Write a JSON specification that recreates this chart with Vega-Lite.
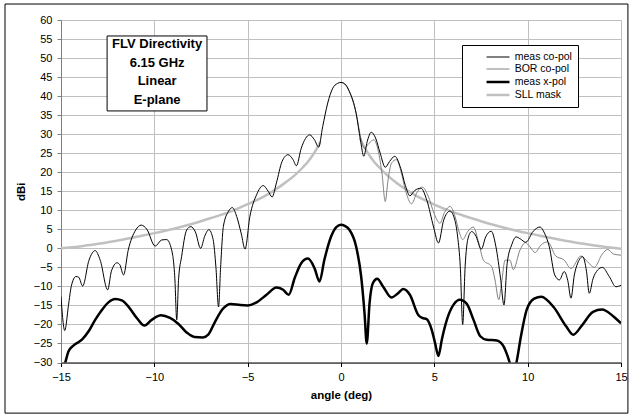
{
"$schema": "https://vega.github.io/schema/vega-lite/v6.json",
"width": 560, "height": 342.5,
"autosize": {"type": "none"},
"padding": {"left": 61, "top": 20, "right": 12, "bottom": 55.5},
"background": "white",
"config": {"view": {"stroke": null}, "font": "Liberation Sans",
"legend": {"orient": "none", "legendX": 401, "legendY": 25, "title": null, "strokeColor": "#000000", "fillColor": "#ffffff", "padding": 6,
"labelFont": "Liberation Sans", "labelFontSize": 10.5, "labelColor": "#000000", "rowPadding": -1.5}},
"data": {"values": [
{"angle":-15.0,"dBi":-12.7,"series":"meas co-pol"},
{"angle":-14.8,"dBi":-21.6,"series":"meas co-pol"},
{"angle":-14.6,"dBi":-15,"series":"meas co-pol"},
{"angle":-14.45,"dBi":-10,"series":"meas co-pol"},
{"angle":-14.2,"dBi":-7.4,"series":"meas co-pol"},
{"angle":-14.05,"dBi":-7.6,"series":"meas co-pol"},
{"angle":-13.84,"dBi":-9.9,"series":"meas co-pol"},
{"angle":-13.5,"dBi":-3.1,"series":"meas co-pol"},
{"angle":-13.17,"dBi":-0.6,"series":"meas co-pol"},
{"angle":-12.9,"dBi":-3.1,"series":"meas co-pol"},
{"angle":-12.5,"dBi":-10.9,"series":"meas co-pol"},
{"angle":-12.3,"dBi":-6,"series":"meas co-pol"},
{"angle":-12.0,"dBi":-3.8,"series":"meas co-pol"},
{"angle":-11.85,"dBi":-4.3,"series":"meas co-pol"},
{"angle":-11.65,"dBi":-7.0,"series":"meas co-pol"},
{"angle":-11.4,"dBi":-0.5,"series":"meas co-pol"},
{"angle":-11.0,"dBi":4.8,"series":"meas co-pol"},
{"angle":-10.7,"dBi":6.1,"series":"meas co-pol"},
{"angle":-10.4,"dBi":5.0,"series":"meas co-pol"},
{"angle":-9.96,"dBi":0.6,"series":"meas co-pol"},
{"angle":-9.6,"dBi":2.2,"series":"meas co-pol"},
{"angle":-9.34,"dBi":2.3,"series":"meas co-pol"},
{"angle":-9.07,"dBi":-0.5,"series":"meas co-pol"},
{"angle":-8.9,"dBi":-8,"series":"meas co-pol"},
{"angle":-8.8,"dBi":-18.8,"series":"meas co-pol"},
{"angle":-8.7,"dBi":-8,"series":"meas co-pol"},
{"angle":-8.54,"dBi":-2.2,"series":"meas co-pol"},
{"angle":-8.27,"dBi":4.8,"series":"meas co-pol"},
{"angle":-8.05,"dBi":5.7,"series":"meas co-pol"},
{"angle":-7.8,"dBi":4.3,"series":"meas co-pol"},
{"angle":-7.52,"dBi":0.0,"series":"meas co-pol"},
{"angle":-7.3,"dBi":3.2,"series":"meas co-pol"},
{"angle":-7.08,"dBi":4.9,"series":"meas co-pol"},
{"angle":-6.85,"dBi":2.3,"series":"meas co-pol"},
{"angle":-6.7,"dBi":-5,"series":"meas co-pol"},
{"angle":-6.56,"dBi":-15.4,"series":"meas co-pol"},
{"angle":-6.45,"dBi":-5,"series":"meas co-pol"},
{"angle":-6.3,"dBi":5.8,"series":"meas co-pol"},
{"angle":-6.03,"dBi":9.7,"series":"meas co-pol"},
{"angle":-5.82,"dBi":10.7,"series":"meas co-pol"},
{"angle":-5.59,"dBi":8.4,"series":"meas co-pol"},
{"angle":-5.35,"dBi":4,"series":"meas co-pol"},
{"angle":-5.14,"dBi":-0.2,"series":"meas co-pol"},
{"angle":-4.88,"dBi":8.4,"series":"meas co-pol"},
{"angle":-4.52,"dBi":14.1,"series":"meas co-pol"},
{"angle":-4.17,"dBi":16.5,"series":"meas co-pol"},
{"angle":-3.9,"dBi":15.0,"series":"meas co-pol"},
{"angle":-3.69,"dBi":13.5,"series":"meas co-pol"},
{"angle":-3.46,"dBi":17.2,"series":"meas co-pol"},
{"angle":-3.16,"dBi":22.8,"series":"meas co-pol"},
{"angle":-2.84,"dBi":24.6,"series":"meas co-pol"},
{"angle":-2.57,"dBi":23.3,"series":"meas co-pol"},
{"angle":-2.39,"dBi":21.7,"series":"meas co-pol"},
{"angle":-2.13,"dBi":26.3,"series":"meas co-pol"},
{"angle":-1.68,"dBi":29.8,"series":"meas co-pol"},
{"angle":-1.42,"dBi":28.5,"series":"meas co-pol"},
{"angle":-1.2,"dBi":26.6,"series":"meas co-pol"},
{"angle":-0.98,"dBi":32.0,"series":"meas co-pol"},
{"angle":-0.71,"dBi":38.2,"series":"meas co-pol"},
{"angle":-0.44,"dBi":42.1,"series":"meas co-pol"},
{"angle":-0.2,"dBi":43.3,"series":"meas co-pol"},
{"angle":0,"dBi":43.6,"series":"meas co-pol"},
{"angle":0.2,"dBi":43.2,"series":"meas co-pol"},
{"angle":0.45,"dBi":41.2,"series":"meas co-pol"},
{"angle":0.81,"dBi":35.5,"series":"meas co-pol"},
{"angle":1.04,"dBi":28.5,"series":"meas co-pol"},
{"angle":1.22,"dBi":24.2,"series":"meas co-pol"},
{"angle":1.4,"dBi":28,"series":"meas co-pol"},
{"angle":1.62,"dBi":30.5,"series":"meas co-pol"},
{"angle":1.85,"dBi":29,"series":"meas co-pol"},
{"angle":2.1,"dBi":25,"series":"meas co-pol"},
{"angle":2.37,"dBi":21.3,"series":"meas co-pol"},
{"angle":2.6,"dBi":22.8,"series":"meas co-pol"},
{"angle":2.88,"dBi":24.2,"series":"meas co-pol"},
{"angle":3.2,"dBi":21,"series":"meas co-pol"},
{"angle":3.45,"dBi":16.5,"series":"meas co-pol"},
{"angle":3.69,"dBi":13.8,"series":"meas co-pol"},
{"angle":3.95,"dBi":15.2,"series":"meas co-pol"},
{"angle":4.28,"dBi":15.8,"series":"meas co-pol"},
{"angle":4.6,"dBi":12.6,"series":"meas co-pol"},
{"angle":4.96,"dBi":5.6,"series":"meas co-pol"},
{"angle":5.22,"dBi":1.4,"series":"meas co-pol"},
{"angle":5.5,"dBi":7.4,"series":"meas co-pol"},
{"angle":5.84,"dBi":9.8,"series":"meas co-pol"},
{"angle":6.1,"dBi":7.4,"series":"meas co-pol"},
{"angle":6.25,"dBi":3,"series":"meas co-pol"},
{"angle":6.39,"dBi":-4.8,"series":"meas co-pol"},
{"angle":6.52,"dBi":-20,"series":"meas co-pol"},
{"angle":6.65,"dBi":-4.8,"series":"meas co-pol"},
{"angle":6.8,"dBi":2.5,"series":"meas co-pol"},
{"angle":7.0,"dBi":4.4,"series":"meas co-pol"},
{"angle":7.2,"dBi":3.5,"series":"meas co-pol"},
{"angle":7.52,"dBi":-0.2,"series":"meas co-pol"},
{"angle":7.75,"dBi":3,"series":"meas co-pol"},
{"angle":8.05,"dBi":4.5,"series":"meas co-pol"},
{"angle":8.3,"dBi":0.4,"series":"meas co-pol"},
{"angle":8.55,"dBi":-8,"series":"meas co-pol"},
{"angle":8.73,"dBi":-14.9,"series":"meas co-pol"},
{"angle":8.9,"dBi":-4,"series":"meas co-pol"},
{"angle":9.15,"dBi":1.0,"series":"meas co-pol"},
{"angle":9.38,"dBi":3.0,"series":"meas co-pol"},
{"angle":9.6,"dBi":2.5,"series":"meas co-pol"},
{"angle":9.9,"dBi":1.6,"series":"meas co-pol"},
{"angle":10.3,"dBi":4.5,"series":"meas co-pol"},
{"angle":10.66,"dBi":5.6,"series":"meas co-pol"},
{"angle":10.9,"dBi":4,"series":"meas co-pol"},
{"angle":11.16,"dBi":0.4,"series":"meas co-pol"},
{"angle":11.45,"dBi":-7,"series":"meas co-pol"},
{"angle":11.7,"dBi":-8.3,"series":"meas co-pol"},
{"angle":11.96,"dBi":-6.1,"series":"meas co-pol"},
{"angle":12.15,"dBi":-8.5,"series":"meas co-pol"},
{"angle":12.32,"dBi":-13.1,"series":"meas co-pol"},
{"angle":12.5,"dBi":-7,"series":"meas co-pol"},
{"angle":12.68,"dBi":-3.9,"series":"meas co-pol"},
{"angle":12.95,"dBi":-2.2,"series":"meas co-pol"},
{"angle":13.15,"dBi":-6,"series":"meas co-pol"},
{"angle":13.3,"dBi":-11.8,"series":"meas co-pol"},
{"angle":13.5,"dBi":-8,"series":"meas co-pol"},
{"angle":13.75,"dBi":-5.7,"series":"meas co-pol"},
{"angle":14.0,"dBi":-5.0,"series":"meas co-pol"},
{"angle":14.37,"dBi":-7.4,"series":"meas co-pol"},
{"angle":14.73,"dBi":-10.1,"series":"meas co-pol"},
{"angle":15.0,"dBi":-9.7,"series":"meas co-pol"},
{"angle":0,"dBi":43.6,"series":"BOR co-pol"},
{"angle":0.2,"dBi":43.2,"series":"BOR co-pol"},
{"angle":0.45,"dBi":41.2,"series":"BOR co-pol"},
{"angle":0.81,"dBi":35.5,"series":"BOR co-pol"},
{"angle":1.04,"dBi":29.5,"series":"BOR co-pol"},
{"angle":1.25,"dBi":26.3,"series":"BOR co-pol"},
{"angle":1.5,"dBi":27.6,"series":"BOR co-pol"},
{"angle":1.76,"dBi":28.5,"series":"BOR co-pol"},
{"angle":2.0,"dBi":25.5,"series":"BOR co-pol"},
{"angle":2.2,"dBi":19.5,"series":"BOR co-pol"},
{"angle":2.37,"dBi":12.3,"series":"BOR co-pol"},
{"angle":2.52,"dBi":18,"series":"BOR co-pol"},
{"angle":2.72,"dBi":22.5,"series":"BOR co-pol"},
{"angle":2.97,"dBi":23.3,"series":"BOR co-pol"},
{"angle":3.2,"dBi":20.5,"series":"BOR co-pol"},
{"angle":3.45,"dBi":15.3,"series":"BOR co-pol"},
{"angle":3.78,"dBi":11.7,"series":"BOR co-pol"},
{"angle":4.05,"dBi":14.5,"series":"BOR co-pol"},
{"angle":4.35,"dBi":16.1,"series":"BOR co-pol"},
{"angle":4.65,"dBi":14,"series":"BOR co-pol"},
{"angle":5.0,"dBi":9,"series":"BOR co-pol"},
{"angle":5.3,"dBi":6.6,"series":"BOR co-pol"},
{"angle":5.55,"dBi":9.5,"series":"BOR co-pol"},
{"angle":5.85,"dBi":11.0,"series":"BOR co-pol"},
{"angle":6.1,"dBi":8.5,"series":"BOR co-pol"},
{"angle":6.35,"dBi":4,"series":"BOR co-pol"},
{"angle":6.52,"dBi":2.3,"series":"BOR co-pol"},
{"angle":6.8,"dBi":4.5,"series":"BOR co-pol"},
{"angle":7.09,"dBi":5.6,"series":"BOR co-pol"},
{"angle":7.35,"dBi":2,"series":"BOR co-pol"},
{"angle":7.63,"dBi":-3.1,"series":"BOR co-pol"},
{"angle":8.07,"dBi":-4.8,"series":"BOR co-pol"},
{"angle":8.25,"dBi":-8.3,"series":"BOR co-pol"},
{"angle":8.45,"dBi":-13.5,"series":"BOR co-pol"},
{"angle":8.6,"dBi":-9.2,"series":"BOR co-pol"},
{"angle":8.79,"dBi":-3.1,"series":"BOR co-pol"},
{"angle":9.05,"dBi":-3.1,"series":"BOR co-pol"},
{"angle":9.23,"dBi":-5.6,"series":"BOR co-pol"},
{"angle":9.59,"dBi":-0.45,"series":"BOR co-pol"},
{"angle":9.88,"dBi":1.5,"series":"BOR co-pol"},
{"angle":10.12,"dBi":0.4,"series":"BOR co-pol"},
{"angle":10.4,"dBi":-1.1,"series":"BOR co-pol"},
{"angle":10.7,"dBi":0.8,"series":"BOR co-pol"},
{"angle":11.07,"dBi":1.7,"series":"BOR co-pol"},
{"angle":11.5,"dBi":-2.0,"series":"BOR co-pol"},
{"angle":11.96,"dBi":-3.1,"series":"BOR co-pol"},
{"angle":12.32,"dBi":-5.3,"series":"BOR co-pol"},
{"angle":12.86,"dBi":-2.0,"series":"BOR co-pol"},
{"angle":13.2,"dBi":-3.5,"series":"BOR co-pol"},
{"angle":13.57,"dBi":-5.0,"series":"BOR co-pol"},
{"angle":14.0,"dBi":-1.5,"series":"BOR co-pol"},
{"angle":14.29,"dBi":-0.3,"series":"BOR co-pol"},
{"angle":14.6,"dBi":-1.5,"series":"BOR co-pol"},
{"angle":15,"dBi":-1.8,"series":"BOR co-pol"},
{"angle":-15,"dBi":-34,"series":"meas x-pol"},
{"angle":-14.77,"dBi":-30,"series":"meas x-pol"},
{"angle":-14.6,"dBi":-27.1,"series":"meas x-pol"},
{"angle":-14.32,"dBi":-25.5,"series":"meas x-pol"},
{"angle":-13.88,"dBi":-24.0,"series":"meas x-pol"},
{"angle":-13.52,"dBi":-21.8,"series":"meas x-pol"},
{"angle":-13.17,"dBi":-18.8,"series":"meas x-pol"},
{"angle":-12.81,"dBi":-16.2,"series":"meas x-pol"},
{"angle":-12.46,"dBi":-14.2,"series":"meas x-pol"},
{"angle":-12.1,"dBi":-13.3,"series":"meas x-pol"},
{"angle":-11.74,"dBi":-13.7,"series":"meas x-pol"},
{"angle":-11.39,"dBi":-15.3,"series":"meas x-pol"},
{"angle":-10.94,"dBi":-18.3,"series":"meas x-pol"},
{"angle":-10.53,"dBi":-20.3,"series":"meas x-pol"},
{"angle":-10.14,"dBi":-18.8,"series":"meas x-pol"},
{"angle":-9.64,"dBi":-17.6,"series":"meas x-pol"},
{"angle":-9.16,"dBi":-18.3,"series":"meas x-pol"},
{"angle":-8.72,"dBi":-19.8,"series":"meas x-pol"},
{"angle":-8.27,"dBi":-22.1,"series":"meas x-pol"},
{"angle":-7.85,"dBi":-23.3,"series":"meas x-pol"},
{"angle":-7.4,"dBi":-23.4,"series":"meas x-pol"},
{"angle":-7.1,"dBi":-22.6,"series":"meas x-pol"},
{"angle":-6.75,"dBi":-19.3,"series":"meas x-pol"},
{"angle":-6.35,"dBi":-16,"series":"meas x-pol"},
{"angle":-5.9,"dBi":-14.6,"series":"meas x-pol"},
{"angle":-5.4,"dBi":-14.9,"series":"meas x-pol"},
{"angle":-5.0,"dBi":-15.0,"series":"meas x-pol"},
{"angle":-4.52,"dBi":-14.2,"series":"meas x-pol"},
{"angle":-3.99,"dBi":-12.2,"series":"meas x-pol"},
{"angle":-3.46,"dBi":-10.3,"series":"meas x-pol"},
{"angle":-3.1,"dBi":-10.9,"series":"meas x-pol"},
{"angle":-2.8,"dBi":-12.2,"series":"meas x-pol"},
{"angle":-2.48,"dBi":-7.8,"series":"meas x-pol"},
{"angle":-2.13,"dBi":-3.9,"series":"meas x-pol"},
{"angle":-1.77,"dBi":-2.7,"series":"meas x-pol"},
{"angle":-1.42,"dBi":-5.2,"series":"meas x-pol"},
{"angle":-1.15,"dBi":-8.7,"series":"meas x-pol"},
{"angle":-0.89,"dBi":-3.0,"series":"meas x-pol"},
{"angle":-0.53,"dBi":3.1,"series":"meas x-pol"},
{"angle":-0.25,"dBi":5.6,"series":"meas x-pol"},
{"angle":0,"dBi":6.2,"series":"meas x-pol"},
{"angle":0.2,"dBi":5.9,"series":"meas x-pol"},
{"angle":0.45,"dBi":4.9,"series":"meas x-pol"},
{"angle":0.81,"dBi":0.5,"series":"meas x-pol"},
{"angle":1.08,"dBi":-7.4,"series":"meas x-pol"},
{"angle":1.26,"dBi":-17.0,"series":"meas x-pol"},
{"angle":1.38,"dBi":-25,"series":"meas x-pol"},
{"angle":1.53,"dBi":-14.4,"series":"meas x-pol"},
{"angle":1.71,"dBi":-9.1,"series":"meas x-pol"},
{"angle":1.94,"dBi":-8.0,"series":"meas x-pol"},
{"angle":2.25,"dBi":-10.0,"series":"meas x-pol"},
{"angle":2.7,"dBi":-12.9,"series":"meas x-pol"},
{"angle":3.06,"dBi":-11.8,"series":"meas x-pol"},
{"angle":3.33,"dBi":-10.7,"series":"meas x-pol"},
{"angle":3.69,"dBi":-12.2,"series":"meas x-pol"},
{"angle":4.14,"dBi":-17.5,"series":"meas x-pol"},
{"angle":4.35,"dBi":-18.3,"series":"meas x-pol"},
{"angle":4.59,"dBi":-18.6,"series":"meas x-pol"},
{"angle":4.86,"dBi":-21.4,"series":"meas x-pol"},
{"angle":5.04,"dBi":-24.9,"series":"meas x-pol"},
{"angle":5.22,"dBi":-28.3,"series":"meas x-pol"},
{"angle":5.4,"dBi":-24.0,"series":"meas x-pol"},
{"angle":5.67,"dBi":-18.8,"series":"meas x-pol"},
{"angle":6.03,"dBi":-14.8,"series":"meas x-pol"},
{"angle":6.37,"dBi":-13.5,"series":"meas x-pol"},
{"angle":6.74,"dBi":-14.6,"series":"meas x-pol"},
{"angle":7.1,"dBi":-18.8,"series":"meas x-pol"},
{"angle":7.46,"dBi":-23.1,"series":"meas x-pol"},
{"angle":7.8,"dBi":-24.0,"series":"meas x-pol"},
{"angle":8.35,"dBi":-24.2,"series":"meas x-pol"},
{"angle":8.7,"dBi":-25.7,"series":"meas x-pol"},
{"angle":8.93,"dBi":-28.4,"series":"meas x-pol"},
{"angle":9.1,"dBi":-31,"series":"meas x-pol"},
{"angle":9.25,"dBi":-33,"series":"meas x-pol"},
{"angle":9.4,"dBi":-30,"series":"meas x-pol"},
{"angle":9.64,"dBi":-23.1,"series":"meas x-pol"},
{"angle":9.95,"dBi":-16.1,"series":"meas x-pol"},
{"angle":10.35,"dBi":-13.2,"series":"meas x-pol"},
{"angle":10.73,"dBi":-12.7,"series":"meas x-pol"},
{"angle":11.4,"dBi":-15.5,"series":"meas x-pol"},
{"angle":12.06,"dBi":-20.5,"series":"meas x-pol"},
{"angle":12.44,"dBi":-22.7,"series":"meas x-pol"},
{"angle":12.9,"dBi":-20.3,"series":"meas x-pol"},
{"angle":13.5,"dBi":-16.7,"series":"meas x-pol"},
{"angle":13.98,"dBi":-16.1,"series":"meas x-pol"},
{"angle":14.6,"dBi":-17.9,"series":"meas x-pol"},
{"angle":15,"dBi":-19.7,"series":"meas x-pol"},
{"angle":-15,"dBi":0.0,"series":"SLL mask","side":"L"},
{"angle":-14,"dBi":0.5,"series":"SLL mask","side":"L"},
{"angle":-13,"dBi":1.2,"series":"SLL mask","side":"L"},
{"angle":-12,"dBi":2.0,"series":"SLL mask","side":"L"},
{"angle":-11,"dBi":3.0,"series":"SLL mask","side":"L"},
{"angle":-10,"dBi":4.0,"series":"SLL mask","side":"L"},
{"angle":-9,"dBi":5.1,"series":"SLL mask","side":"L"},
{"angle":-8,"dBi":6.4,"series":"SLL mask","side":"L"},
{"angle":-7,"dBi":7.9,"series":"SLL mask","side":"L"},
{"angle":-6,"dBi":9.5,"series":"SLL mask","side":"L"},
{"angle":-5,"dBi":11.6,"series":"SLL mask","side":"L"},
{"angle":-4,"dBi":14.0,"series":"SLL mask","side":"L"},
{"angle":-3.5,"dBi":15.5,"series":"SLL mask","side":"L"},
{"angle":-3,"dBi":17.2,"series":"SLL mask","side":"L"},
{"angle":-2.5,"dBi":19.1,"series":"SLL mask","side":"L"},
{"angle":-2,"dBi":21.5,"series":"SLL mask","side":"L"},
{"angle":-1.75,"dBi":22.9,"series":"SLL mask","side":"L"},
{"angle":-1.5,"dBi":24.6,"series":"SLL mask","side":"L"},
{"angle":-1.25,"dBi":26.6,"series":"SLL mask","side":"L"},
{"angle":-1.1,"dBi":28.0,"series":"SLL mask","side":"L"},
{"angle":1.0,"dBi":29.0,"series":"SLL mask","side":"R"},
{"angle":1.25,"dBi":26.6,"series":"SLL mask","side":"R"},
{"angle":1.5,"dBi":24.6,"series":"SLL mask","side":"R"},
{"angle":1.75,"dBi":22.9,"series":"SLL mask","side":"R"},
{"angle":2,"dBi":21.5,"series":"SLL mask","side":"R"},
{"angle":2.5,"dBi":19.1,"series":"SLL mask","side":"R"},
{"angle":3,"dBi":17.1,"series":"SLL mask","side":"R"},
{"angle":3.5,"dBi":15.4,"series":"SLL mask","side":"R"},
{"angle":4,"dBi":13.9,"series":"SLL mask","side":"R"},
{"angle":5,"dBi":11.5,"series":"SLL mask","side":"R"},
{"angle":6,"dBi":9.5,"series":"SLL mask","side":"R"},
{"angle":7,"dBi":7.9,"series":"SLL mask","side":"R"},
{"angle":8,"dBi":6.4,"series":"SLL mask","side":"R"},
{"angle":9,"dBi":5.1,"series":"SLL mask","side":"R"},
{"angle":10,"dBi":4.0,"series":"SLL mask","side":"R"},
{"angle":11,"dBi":3.0,"series":"SLL mask","side":"R"},
{"angle":12,"dBi":2.0,"series":"SLL mask","side":"R"},
{"angle":13,"dBi":1.2,"series":"SLL mask","side":"R"},
{"angle":14,"dBi":0.5,"series":"SLL mask","side":"R"},
{"angle":15,"dBi":-0.1,"series":"SLL mask","side":"R"}
]},
"encoding": {
"x": {"field": "angle", "type": "quantitative",
"scale": {"domain": [-15, 15], "nice": false, "zero": false, "padding": 0},
"axis": {"values": [-15,-10,-5,0,5,10,15], "grid": true, "gridColor": "#c0c0c0", "gridWidth": 1, "labelFlush": false,
"domainColor": "#000000", "tickColor": "#000000", "tickSize": 4,
"labelFont": "Liberation Sans", "labelFontSize": 11, "labelColor": "#000000", "labelPadding": 5,
"title": "angle (deg)", "titleFont": "Liberation Sans", "titleFontSize": 11.5, "titleFontWeight": "bold", "titleColor": "#000000", "titlePadding": 7}},
"y": {"field": "dBi", "type": "quantitative",
"scale": {"domain": [-30, 60], "nice": false, "zero": false, "padding": 0},
"axis": {"values": [-30,-25,-20,-15,-10,-5,0,5,10,15,20,25,30,35,40,45,50,55,60], "grid": true, "gridColor": "#c0c0c0", "gridWidth": 1, "labelFlush": false,
"domainColor": "#808080", "tickColor": "#808080", "tickSize": 4,
"labelFont": "Liberation Sans", "labelFontSize": 11, "labelColor": "#000000", "labelPadding": 5,
"title": "dBi", "titleFont": "Liberation Sans", "titleFontSize": 11.5, "titleFontWeight": "bold", "titleColor": "#000000", "titlePadding": 7}}
},
"layer": [
{
"transform": [{"filter": "datum.series === 'SLL mask'"}],
"mark": {"type": "line", "interpolate": "monotone", "clip": true},
"encoding": {
"detail": {"field": "side"},
"color": {"field": "series", "type": "nominal",
"scale": {"domain": ["meas co-pol", "BOR co-pol", "meas x-pol", "SLL mask"], "range": ["#000000", "#808080", "#000000", "#c0c0c0"]},
"legend": {"symbolType": "M2.1,0L6.27,0", "symbolSize": 121, "labelOffset": 32.7}},
"strokeWidth": {"field": "series", "type": "nominal",
"scale": {"type": "ordinal", "domain": ["meas co-pol", "BOR co-pol", "meas x-pol", "SLL mask"], "range": [1, 1, 2.5, 2.5]},
"legend": {"symbolType": "M2.1,0L6.27,0", "symbolSize": 121, "labelOffset": 32.7}}
}
},
{
"transform": [{"filter": "datum.series === 'BOR co-pol'"}],
"mark": {"type": "line", "interpolate": "monotone", "clip": true},
"encoding": {
"color": {"field": "series", "type": "nominal",
"scale": {"domain": ["meas co-pol", "BOR co-pol", "meas x-pol", "SLL mask"], "range": ["#000000", "#808080", "#000000", "#c0c0c0"]},
"legend": {"symbolType": "M2.1,0L6.27,0", "symbolSize": 121, "labelOffset": 32.7}},
"strokeWidth": {"field": "series", "type": "nominal",
"scale": {"type": "ordinal", "domain": ["meas co-pol", "BOR co-pol", "meas x-pol", "SLL mask"], "range": [1, 1, 2.5, 2.5]},
"legend": {"symbolType": "M2.1,0L6.27,0", "symbolSize": 121, "labelOffset": 32.7}}
}
},
{
"transform": [{"filter": "datum.series === 'meas x-pol'"}],
"mark": {"type": "line", "interpolate": "monotone", "clip": true},
"encoding": {
"color": {"field": "series", "type": "nominal",
"scale": {"domain": ["meas co-pol", "BOR co-pol", "meas x-pol", "SLL mask"], "range": ["#000000", "#808080", "#000000", "#c0c0c0"]},
"legend": {"symbolType": "M2.1,0L6.27,0", "symbolSize": 121, "labelOffset": 32.7}},
"strokeWidth": {"field": "series", "type": "nominal",
"scale": {"type": "ordinal", "domain": ["meas co-pol", "BOR co-pol", "meas x-pol", "SLL mask"], "range": [1, 1, 2.5, 2.5]},
"legend": {"symbolType": "M2.1,0L6.27,0", "symbolSize": 121, "labelOffset": 32.7}}
}
},
{
"transform": [{"filter": "datum.series === 'meas co-pol'"}],
"mark": {"type": "line", "interpolate": "monotone", "clip": true},
"encoding": {
"color": {"field": "series", "type": "nominal",
"scale": {"domain": ["meas co-pol", "BOR co-pol", "meas x-pol", "SLL mask"], "range": ["#000000", "#808080", "#000000", "#c0c0c0"]},
"legend": {"symbolType": "M2.1,0L6.27,0", "symbolSize": 121, "labelOffset": 32.7}},
"strokeWidth": {"field": "series", "type": "nominal",
"scale": {"type": "ordinal", "domain": ["meas co-pol", "BOR co-pol", "meas x-pol", "SLL mask"], "range": [1, 1, 2.5, 2.5]},
"legend": {"symbolType": "M2.1,0L6.27,0", "symbolSize": 121, "labelOffset": 32.7}}
}
},
{
"data": {"values": [{"angle": -12.53, "angle_end": -7.18, "dBi": 55.8, "dBi_end": 36.1}]},
"mark": {"type": "rect", "fill": "#ffffff", "stroke": "#000000", "strokeWidth": 1},
"encoding": {
"x2": {"field": "angle_end"},
"y2": {"field": "dBi_end"}
}
},
{
"data": {"values": [{"angle": -9.85, "dBi": 53.7}]},
"mark": {"type": "text", "font": "Liberation Sans", "fontSize": 13, "fontWeight": "bold", "align": "center", "baseline": "middle", "lineHeight": 18.7, "color": "#000000"},
"encoding": {
"text": {"value": ["FLV Directivity", "6.15 GHz", "Linear", "E-plane"]}
}
},
{
"data": {"values": [{"angle": -18.0, "angle_end": 15.37, "dBi": 64.2, "dBi_end": -43.3}]},
"mark": {"type": "rect", "fill": null, "fillOpacity": 0, "stroke": "#000000", "strokeWidth": 1, "clip": false},
"encoding": {
"x2": {"field": "angle_end"},
"y2": {"field": "dBi_end"}
}
}
]
}
